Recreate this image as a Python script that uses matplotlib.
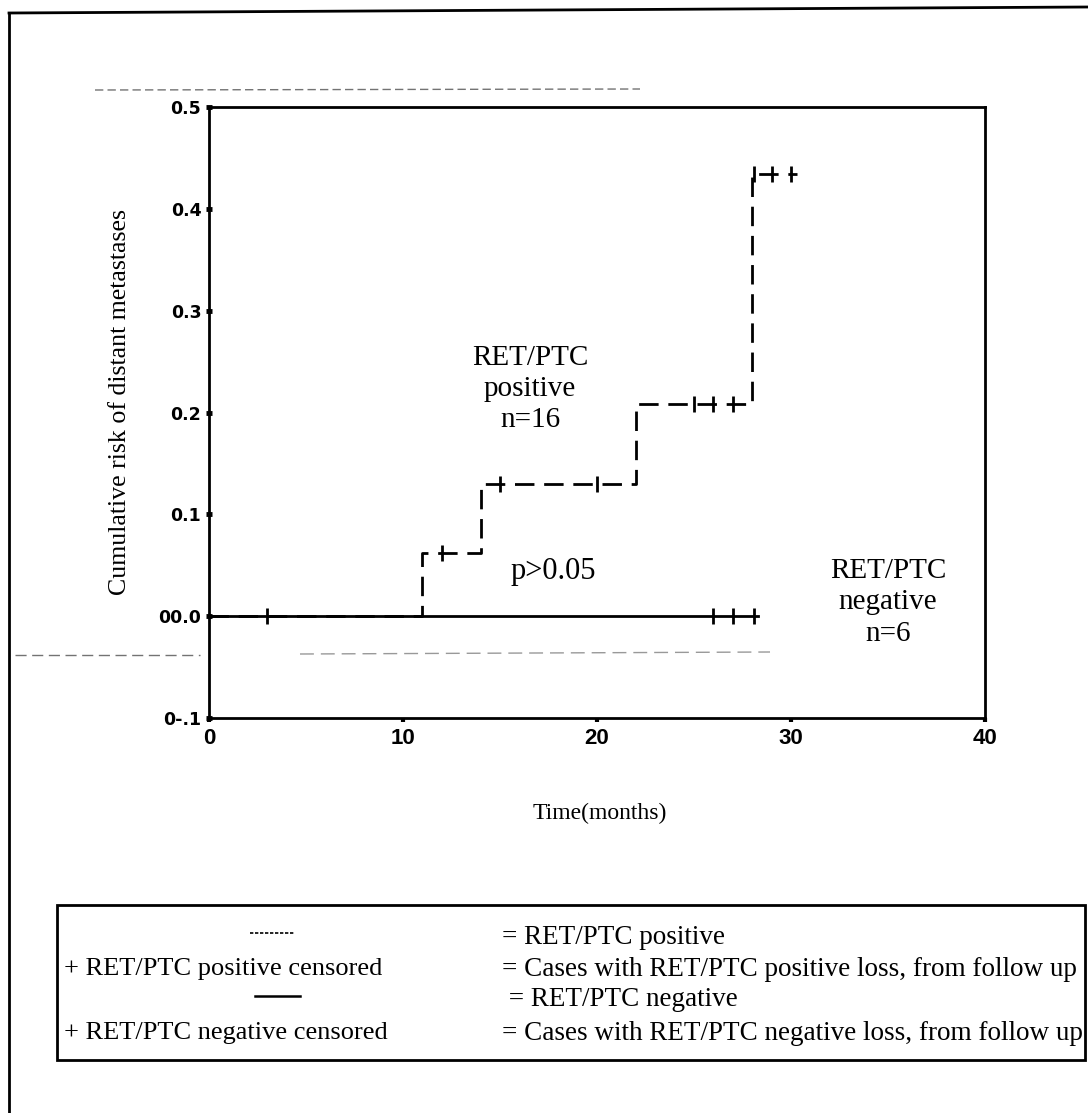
import matplotlib.pyplot as plt
from matplotlib.lines import Line2D
from matplotlib.patches import Rectangle

# values
pos_step_t = [0, 11, 14, 22, 28, 30.3]
pos_step_r = [0, 0.0625, 0.13, 0.208, 0.434, 0.434]
pos_cens_t = [12, 15, 20, 25, 26, 27, 28.1, 29, 30]
pos_cens_r = [0.0625, 0.13, 0.13, 0.208, 0.208, 0.208, 0.434, 0.434, 0.434]

neg_step_t = [0, 28.3]
neg_step_r = [0, 0]
neg_cens_t = [3, 26, 27, 28.1]
neg_cens_r = [0, 0, 0, 0]

x_ticks = [0, 10, 20, 30, 40]
y_ticks = [0.5, 0.4, 0.3, 0.2, 0.1, 0.0, -0.1]
y_tick_labels = ['0.5', '0.4', '0.3', '0.2', '0.1', '00.0', '0-.1']

legend_left = ['', '+ RET/PTC positive censored', '', '+ RET/PTC negative censored']
legend_right = ['= RET/PTC positive',
                '= Cases with RET/PTC positive loss, from follow up',
                ' = RET/PTC negative',
                '= Cases with RET/PTC negative loss, from follow up']

W, H = 1088, 1113
SERIF = 'Liberation Serif'


def fx(p):
    return p / W


def fy(p):
    return 1 - p / H


fig = plt.figure(figsize=(W / 100, H / 100), dpi=100)
ax = fig.add_axes([fx(209), fy(718), fx(985) - fx(209), fy(107) - fy(718)])

ax.step(pos_step_t, pos_step_r, where='post', color='black', lw=2, dashes=(7, 3.5))
ax.plot(pos_cens_t, pos_cens_r, ls='none', marker='|', ms=11, mew=2, color='black')
ax.step(neg_step_t, neg_step_r, where='post', color='black', lw=2)
ax.plot(neg_cens_t, neg_cens_r, ls='none', marker='|', ms=11, mew=2, color='black')

ax.set_xlim(0, 40)
ax.set_ylim(-0.1, 0.5)
for s in ax.spines.values():
    s.set_linewidth(2)

ax.set_xticks(x_ticks)
ax.set_yticks(y_ticks)
ax.set_yticklabels(y_tick_labels)
ax.tick_params(axis='y', direction='inout', length=5, width=3.5, pad=3)
ax.tick_params(axis='x', direction='out', length=3, width=3, pad=4)
for lab in ax.get_yticklabels():
    lab.set_fontfamily('DejaVu Sans')
    lab.set_fontweight('bold')
    lab.set_fontsize(12.5)
for lab in ax.get_xticklabels():
    lab.set_fontfamily(['Liberation Sans Narrow', 'Liberation Sans'])
    lab.set_fontweight('bold')
    lab.set_fontsize(16)

ax.text(16.55, 0.2235, 'RET/PTC\npositive\nn=16', ha='center', va='center',
        ma='center', family=SERIF, fontsize=21, linespacing=1.25)
ax.text(17.73, 0.044, 'p>0.05', ha='center', va='center', family=SERIF, fontsize=22)
ax.text(35.0, 0.0137, 'RET/PTC\nnegative\nn=6', ha='center', va='center',
        ma='center', family=SERIF, fontsize=21, linespacing=1.28)

fig.text(fx(120), fy(402), 'Cumulative risk of distant metastases', rotation=90,
         ha='center', va='center', family=SERIF, fontsize=18.6)
fig.text(fx(600), fy(813), 'Time(months)', ha='center', va='center',
         family=SERIF, fontsize=17)

# outer frame (left and top edges only, the rest is cropped)
fig.add_artist(Line2D([fx(9), fx(9)], [fy(1113), fy(13)], color='black', lw=2))
fig.add_artist(Line2D([fx(9), fx(1088)], [fy(13), fy(7)], color='black', lw=2))

# faint scan lines
fig.add_artist(Line2D([fx(95), fx(640)], [fy(90), fy(89)], color='0.45', lw=1,
                      dashes=(6, 3)))
fig.add_artist(Line2D([fx(15), fx(200)], [fy(655), fy(655)], color='0.45', lw=1,
                      dashes=(8, 4)))
fig.add_artist(Line2D([fx(300), fx(770)], [fy(654), fy(652)], color='0.6', lw=1,
                      dashes=(10, 5)))

# legend box
fig.add_artist(Rectangle((fx(57), fy(1060)), fx(1085) - fx(57), fy(905) - fy(1060),
                         fill=False, edgecolor='black', lw=2))
rows = [938, 969, 1000, 1033]
fig.add_artist(Line2D([fx(250), fx(295)], [fy(933), fy(933)], color='black',
                      lw=1.2, dashes=(2, 1)))
fig.add_artist(Line2D([fx(255), fx(300)], [fy(996), fy(996)], color='black',
                      lw=1.8))
for i, (r, lt, rt) in enumerate(zip(rows, legend_left, legend_right)):
    if lt:
        fig.text(fx(64), fy(r), lt, ha='left', va='center', family=SERIF, fontsize=19)
    fig.text(fx(502), fy(r), rt, ha='left', va='center', family=SERIF, fontsize=19.5)

fig.savefig('out.png', dpi=100)
